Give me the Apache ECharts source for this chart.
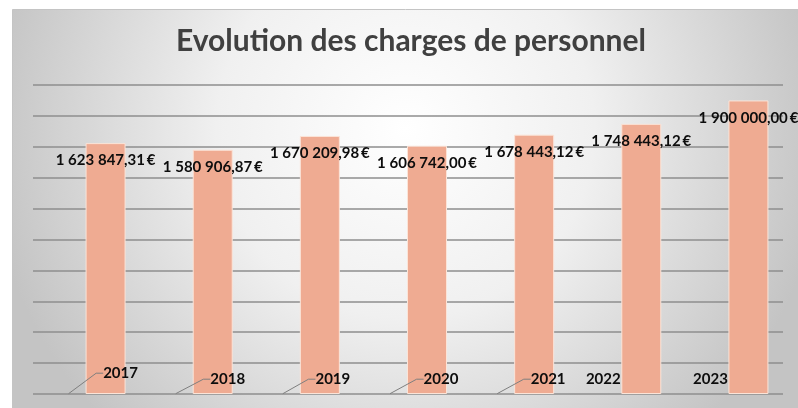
<!DOCTYPE html>
<html>
<head>
<meta charset="utf-8">
<script src="https://cdn.jsdelivr.net/npm/echarts@6/dist/echarts.min.js"></script>
<style>
	html, body { margin: 0; padding: 0; background: #ffffff; }
	#chart { width: 798px; height: 408px; }
</style>
</head>
<body>
<div id="chart"></div>
<script>
// data
var years = ['2017', '2018', '2019', '2020', '2021', '2022', '2023'];
var yearValues = [2017, 2018, 2019, 2020, 2021, 2022, 2023];
var charges = [1623847.31, 1580906.87, 1670209.98, 1606742.00, 1678443.12, 1748443.12, 1900000.00];

// how far the year labels were dragged from their default spot (+ left padding of the label box)
var yearLabelShift = [[42, -6, 22], [53, 0, 0], [51, 0, 0], [52, 0, 0], [52, 0, 0], null, null];

function euro(v) {
	var p = v.toFixed(2).split('.');
	return p[0].replace(/\B(?=(\d{3})+(?!\d))/g, '\u202f') + ',' + p[1] + '\u2009€';
}

var myChart = echarts.init(document.getElementById('chart'));

var option = {
	animation: false,
	textStyle: { fontFamily: 'Lato' },
	title: {
		text: 'Evolution des charges de personnel',
		left: 406,
		top: 21,
		textAlign: 'center',
		textStyle: {
			color: '#404040',
			fontSize: 30,
			fontWeight: 'bold',
			fontFamily: 'Lato'
		}
	},
	graphic: [{
		type: 'rect',
		left: 12,
		top: 9,
		z: -10,
		silent: true,
		shape: { width: 786, height: 399 },
		style: {
			fill: {
				type: 'radial',
				x: 0.5, y: 0.3, r: 1.05,
				colorStops: [
					{ offset: 0, color: '#ffffff' },
					{ offset: 0.45, color: '#f0f0f0' },
					{ offset: 1, color: '#c4c4c4' }
				]
			},
			stroke: '#c4c4c4',
			lineWidth: 1
		}
	}],
	grid: {
		left: 33,
		right: 15,
		top: 85,
		bottom: 14
	},
	xAxis: {
		type: 'category',
		data: years,
		axisLine: { show: false },
		axisTick: { show: false },
		axisLabel: { show: false }
	},
	yAxis: {
		type: 'value',
		min: 0,
		max: 2000000,
		interval: 200000,
		axisLabel: { show: false },
		axisLine: { show: false },
		axisTick: { show: false },
		splitLine: {
			lineStyle: { color: '#8e8e8e', width: 1.5 }
		}
	},
	series: [{
		// empty spacer so the thin year bar sits where Excel put it
		name: 'spacer',
		type: 'bar',
		barWidth: 2,
		data: []
	}, {
		name: 'Année',
		type: 'bar',
		barWidth: 2,
		z: 3,
		data: yearValues.map(function(v, i) {
			var s = yearLabelShift[i];
			return {
				value: v,
				label: { padding: [0, 0, 0, s ? s[2] : 0] },
				labelLine: { show: s != null }
			};
		}),
		itemStyle: { color: 'rgba(0,0,0,0)' },
		label: {
			show: true,
			position: 'top',
			distance: 7,
			formatter: '{c}',
			color: '#0d0d0d',
			fontSize: 15,
			fontWeight: 'bold',
			fontFamily: 'Lato'
		},
		labelLine: {
			show: true,
			showAbove: true,
			length2: 7,
			lineStyle: { color: '#7f7f7f', width: 1 }
		},
		labelLayout: function(params) {
			var s = yearLabelShift[params.dataIndex];
			if (!s) return {};
			return { dx: s[0], dy: s[1] };
		}
	}, {
		name: 'Charges de personnel',
		type: 'bar',
		barWidth: 40,
		barGap: '850%',
		data: charges,
		itemStyle: {
			color: '#efab92',
			borderColor: '#fbe4d8',
			borderWidth: 1
		},
		label: {
			show: true,
			position: 'insideTop',
			distance: 10,
			formatter: function(p) { return euro(p.value); },
			color: '#0d0d0d',
			fontSize: 15,
			fontWeight: 'bold',
			fontFamily: 'Lato'
		}
	}]
};

myChart.setOption(option);
</script>
</body>
</html>
